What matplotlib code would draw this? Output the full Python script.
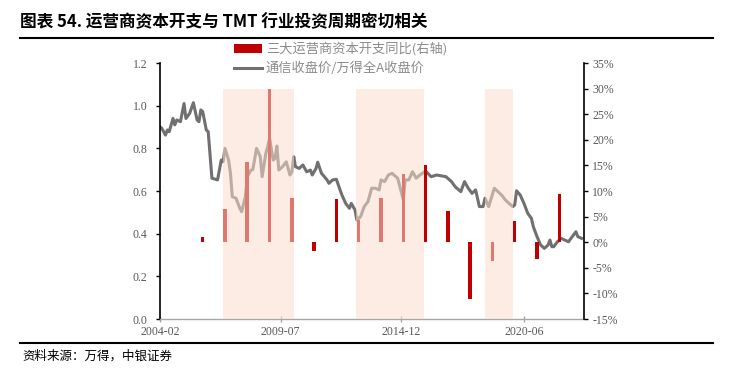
import matplotlib
matplotlib.use("Agg")
import matplotlib.pyplot as plt
from matplotlib.patches import Patch
from matplotlib.lines import Line2D
import pandas as pd

plt.rcParams['font.family'] = ['Noto Sans CJK SC', 'DejaVu Sans']

# ---- data ----
line_dates = ['2004-02','2004-03','2004-05','2004-06','2004-07','2004-09','2004-10','2004-11','2005-01','2005-03',
              '2005-04','2005-06','2005-08','2005-10','2005-11','2005-12','2006-01','2006-03','2006-04','2006-06',
              '2006-08','2006-09','2006-11','2006-12','2007-01','2007-03','2007-04','2007-05','2007-07','2007-09',
              '2007-10','2007-12','2008-01','2008-03','2008-04','2008-06','2008-08','2008-09','2008-11','2008-12',
              '2009-01','2009-03','2009-04','2009-05','2009-06','2009-08','2009-10','2009-12','2010-01','2010-02',
              '2010-03','2010-05','2010-07','2010-09','2010-11','2010-12','2011-02','2011-03','2011-05','2011-08',
              '2011-09','2011-11','2012-01','2012-03','2012-04','2012-06','2012-08','2012-09','2012-11','2012-12',
              '2013-02','2013-04','2013-06','2013-08','2013-10','2013-12','2014-01','2014-03','2014-05','2014-07',
              '2014-10','2015-01','2015-02','2015-04','2015-06','2015-08','2015-10','2016-01','2016-04','2016-07',
              '2016-12','2017-03','2017-05','2017-08','2017-10','2017-12','2018-02','2018-04','2018-06','2018-08',
              '2018-09','2018-11','2019-02','2019-05','2019-06','2019-08','2019-10','2019-12','2020-01','2020-02',
              '2020-04','2020-06','2020-08','2020-10','2020-11','2021-01','2021-03','2021-05','2021-07','2021-08',
              '2021-09','2021-10','2021-12','2022-02','2022-04','2022-06','2022-08','2022-10','2022-11','2023-01']
line_values = [0.90,0.894,0.862,0.886,0.878,0.94,0.91,0.933,0.925,1.01,
               0.94,0.964,1.014,0.933,0.925,0.98,0.972,0.886,0.878,0.66,
               0.655,0.652,0.745,0.737,0.80,0.745,0.683,0.573,0.566,0.519,
               0.503,0.573,0.667,0.698,0.70,0.80,0.761,0.667,0.777,0.808,
               0.847,0.745,0.753,0.811,0.698,0.714,0.737,0.675,0.69,0.761,
               0.714,0.706,0.722,0.69,0.698,0.675,0.706,0.735,0.683,0.652,
               0.636,0.652,0.655,0.605,0.581,0.542,0.519,0.542,0.511,0.464,
               0.48,0.527,0.55,0.613,0.613,0.605,0.652,0.644,0.675,0.683,
               0.66,0.56,0.652,0.652,0.69,0.66,0.675,0.694,0.667,0.675,
               0.667,0.644,0.62,0.597,0.644,0.613,0.589,0.605,0.527,0.527,
               0.566,0.527,0.613,0.589,0.581,0.558,0.542,0.527,0.534,0.601,
               0.581,0.542,0.496,0.472,0.433,0.386,0.347,0.331,0.347,0.370,
               0.339,0.339,0.362,0.378,0.370,0.362,0.386,0.409,0.386,0.378]

bar_years = [2006, 2007, 2008, 2009, 2010, 2011, 2012, 2013, 2014, 2015, 2016, 2017, 2018, 2019, 2020, 2021, 2022]
bar_values = [1.0, 6.5, 15.7, 29.9, 8.6, -1.8, 8.4, 4.4, 8.6, 13.4, 15.0, 6.0, -11.1, -3.6, 4.1, -3.3, 9.5]

shade_starts = ['2006-11-25', '2012-11-25', '2018-09-01']
shade_ends = ['2010-02-05', '2015-12-01', '2019-12-01']

line_label = '通信收盘价/万得全A收盘价'
bar_label = '三大运营商资本开支同比(右轴)'
title = '图表 54. 运营商资本开支与 TMT 行业投资周期密切相关'
source = '资料来源：万得，中银证券'
xtick_labels = ['2004-02', '2009-07', '2014-12', '2020-06']

# ---- figure ----
W, H = 729, 381
fig = plt.figure(figsize=(W/100, H/100), dpi=100)
ax = fig.add_axes([160/W, 1-319/H, (584-160)/W, (319-63)/H])
ax2 = ax.twinx()

line_color = '#707070'
bar_color = '#c00000'
tick_color = '#595959'

ld = pd.to_datetime(line_dates)
ax.plot(ld, line_values, color=line_color, lw=2.2, solid_joinstyle='round', zorder=2)

bd = pd.to_datetime([f'{y}-01-01' for y in bar_years])
ax2.bar(bd, bar_values, width=58, color=bar_color, zorder=2)

for s, e in zip(shade_starts, shade_ends):
    s_d = pd.Timestamp(s); e_d = pd.Timestamp(e)
    ax2.fill_between([s_d, e_d], -15, 30, color='#fadecd', alpha=0.55, lw=0, zorder=5)

ax.set_ylim(0, 1.2)
ax.set_yticks([0, 0.2, 0.4, 0.6, 0.8, 1.0, 1.2])
ax.set_yticklabels([f'{v:.1f}' for v in [0, 0.2, 0.4, 0.6, 0.8, 1.0, 1.2]])
ax2.set_ylim(-15, 35)
rt = list(range(-15, 40, 5))
ax2.set_yticks(rt)
ax2.set_yticklabels([f'{v}%' for v in rt])

ax.set_xlim(pd.Timestamp('2004-02-01'), pd.Timestamp('2023-02-10'))
ax.set_xticks(pd.to_datetime([d + '-01' for d in xtick_labels]))
ax.set_xticklabels(xtick_labels)

serif = ['Liberation Serif', 'DejaVu Serif']
for a in (ax, ax2):
    for lab in a.get_yticklabels() + a.get_xticklabels():
        lab.set_fontfamily(serif)
        lab.set_fontsize(8.5)
        lab.set_color(tick_color)
    a.spines['top'].set_visible(False)
    a.set_facecolor('none')

ax.spines['left'].set_color('black')
ax.spines['left'].set_linewidth(1.2)
ax.spines['right'].set_visible(False)
ax.spines['bottom'].set_color('#a6a6a6')
ax.spines['bottom'].set_linewidth(1.0)
ax2.spines['right'].set_color('black')
ax2.spines['right'].set_linewidth(1.2)
ax2.spines['left'].set_visible(False)
ax2.spines['bottom'].set_visible(False)
ax.tick_params(axis='y', direction='out', length=3, width=1, color='black', pad=6)
ax2.tick_params(axis='y', direction='out', length=3, width=1, color='black', pad=3)
ax.tick_params(axis='x', direction='inout', length=4, width=1, color='#a6a6a6', pad=3)

handles = [Patch(facecolor=bar_color, edgecolor='none'),
           Line2D([], [], color=line_color, lw=2.2)]
leg = fig.legend(handles, [bar_label, line_label], loc='upper left',
                 bbox_to_anchor=(234/W, 1-42/H), frameon=False, fontsize=9.5,
                 handlelength=2.1, handleheight=0.7, labelspacing=0.45, handletextpad=0.3,
                 borderpad=0, borderaxespad=0)
for t in leg.get_texts():
    t.set_color('#8c8c8c')

fig.text(20/W, 1-22/H, title, fontsize=12, fontweight='bold', va='center', ha='left', color='black')
fig.add_artist(Line2D([20/W, 713/W], [1-38/H, 1-38/H], color='black', lw=1.5))
fig.add_artist(Line2D([20/W, 713/W], [1-343/H, 1-343/H], color='black', lw=1.5))
fig.text(22/W, 1-356/H, source, fontsize=9, va='center', ha='left', color='black')

fig.savefig('out.png', dpi=100)
